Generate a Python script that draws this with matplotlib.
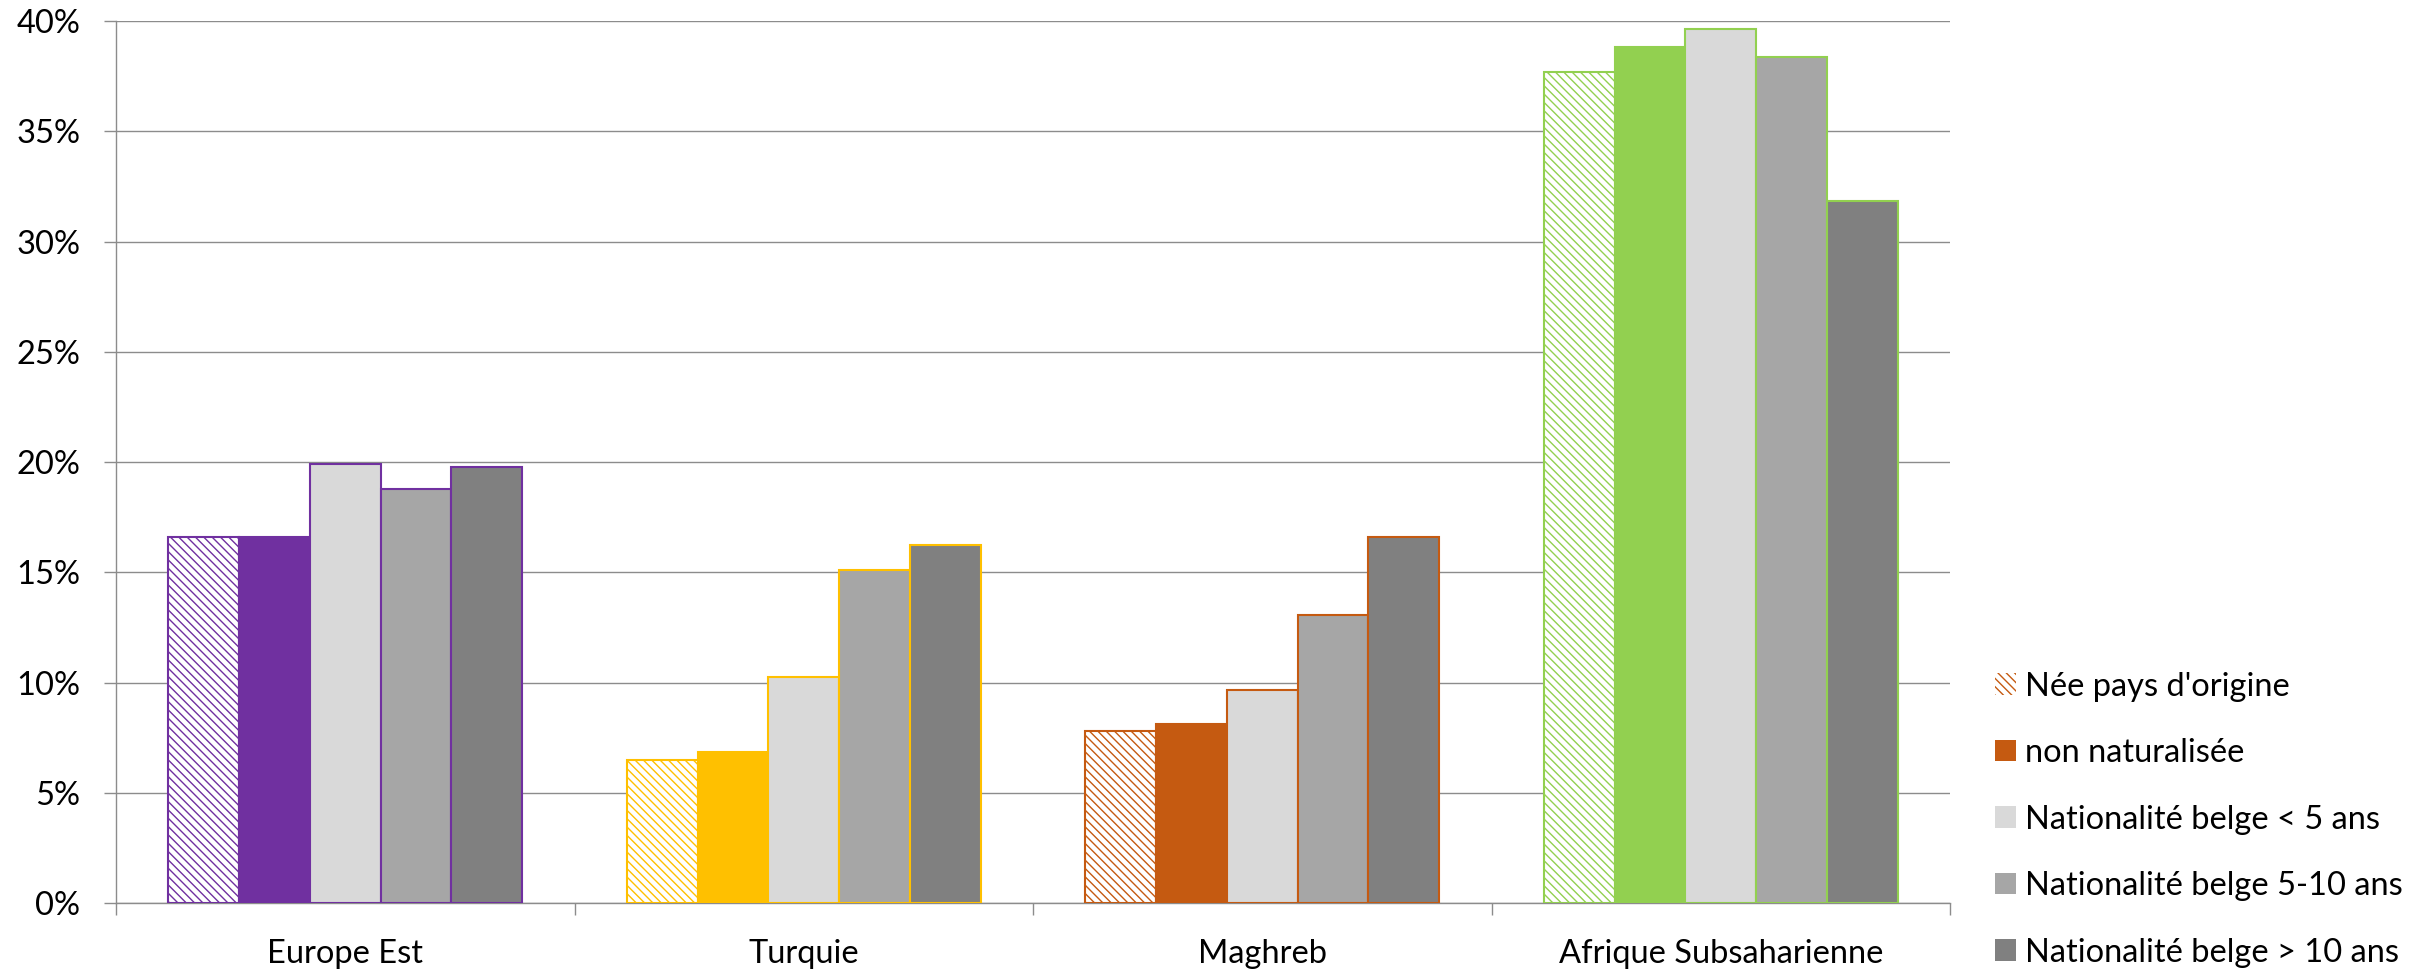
import matplotlib
matplotlib.use("Agg")
import matplotlib.pyplot as plt
import numpy as np
from matplotlib.patches import Patch
from matplotlib.ticker import FixedLocator, PercentFormatter

# Regions and the share (%) for each status group
regions = ["Europe Est", "Turquie", "Maghreb", "Afrique Subsaharienne"]
series_labels = [
    "Née pays d'origine",
    "non naturalisée",
    "Nationalité belge < 5 ans",
    "Nationalité belge 5-10 ans",
    "Nationalité belge > 10 ans",
]
nee_pays_origine = [16.6, 6.5, 7.8, 37.7]
non_naturalisee = [16.6, 6.85, 8.15, 38.8]
belge_moins_5 = [19.9, 10.25, 9.65, 39.65]
belge_5_10 = [18.8, 15.1, 13.05, 38.35]
belge_plus_10 = [19.8, 16.25, 16.6, 31.85]

series_values = [nee_pays_origine, non_naturalisee, belge_moins_5, belge_5_10, belge_plus_10]

region_colors = ["#7030A0", "#FFC000", "#C55A11", "#92D050"]
gray_fills = ["#D9D9D9", "#A6A6A6", "#808080"]
y_ticks = [0, 5, 10, 15, 20, 25, 30, 35, 40]

FONT = "Lato"
FS = 23.5
plt.rcParams["font.family"] = [FONT, "DejaVu Sans"]
plt.rcParams["hatch.linewidth"] = 1.0

fig = plt.figure(figsize=(24.3, 9.71), dpi=100)
ax = fig.add_axes([116 / 2430, 1 - 903.3 / 971, (1950 - 116) / 2430, (903.3 - 21) / 971])

n_series = len(series_values)
bar_w = 0.1543
x = np.arange(len(regions))
hatch = "\\" * 4

for s, vals in enumerate(series_values):
    offs = (s - (n_series - 1) / 2) * bar_w
    for r, v in enumerate(vals):
        col = region_colors[r]
        if s == 0:
            ax.bar(x[r] + offs, v, width=bar_w, facecolor="white", edgecolor=col,
                   hatch=hatch, linewidth=1.5, zorder=3)
        elif s == 1:
            ax.bar(x[r] + offs, v, width=bar_w, facecolor=col, edgecolor=col,
                   linewidth=1.5, zorder=3)
        else:
            ax.bar(x[r] + offs, v, width=bar_w, facecolor=gray_fills[s - 2], edgecolor=col,
                   linewidth=1.5, zorder=3)

ax.set_xlim(-0.5, len(regions) - 0.5)
ax.set_ylim(0, 40)
ax.set_axisbelow(True)

grid_col = "#8C8C8C"
ax.yaxis.set_major_locator(FixedLocator(y_ticks))
ax.yaxis.set_major_formatter(PercentFormatter(decimals=0))
ax.grid(axis="y", color=grid_col, linewidth=1.0)
ax.tick_params(axis="y", length=8.6, width=1.0, color=grid_col, pad=17, labelsize=FS)

ax.set_xticks(x)
ax.set_xticklabels(regions)
ax.set_xticks(np.arange(len(regions) + 1) - 0.5, minor=True)
ax.tick_params(axis="x", which="major", length=0, pad=26, labelsize=FS)
ax.tick_params(axis="x", which="minor", length=8.6, width=1.0, color=grid_col)

for side in ("top", "right"):
    ax.spines[side].set_visible(False)
for side in ("left", "bottom"):
    ax.spines[side].set_color(grid_col)
    ax.spines[side].set_linewidth(1.0)

legend_handles = [
    Patch(facecolor="white", edgecolor=region_colors[2], hatch=hatch, linewidth=0),
    Patch(facecolor=region_colors[2], edgecolor="none"),
    Patch(facecolor=gray_fills[0], edgecolor="none"),
    Patch(facecolor=gray_fills[1], edgecolor="none"),
    Patch(facecolor=gray_fills[2], edgecolor="none"),
]
fig.legend(legend_handles, series_labels, loc="upper left",
           bbox_to_anchor=(1995 / 2430, 1 - 671.5 / 971), frameon=False,
           fontsize=FS, handlelength=0.64, handleheight=0.64, handletextpad=0.28,
           labelspacing=1.12, borderpad=0, borderaxespad=0)

fig.savefig("out.png", dpi=100)
